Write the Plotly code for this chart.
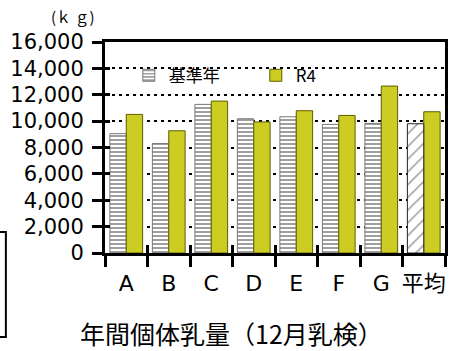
import plotly.graph_objects as go

categories = ["A", "B", "C", "D", "E", "F", "G"]
avg_category = ["平均"]
base_year = [9050, 8300, 11270, 10180, 10330, 9750, 9830]
base_year_avg = [9800]
r4 = [10510, 9270, 11520, 9940, 10790, 10430, 12660, 10710]
y_ticks = [0, 2000, 4000, 6000, 8000, 10000, 12000, 14000, 16000]

all_categories = categories + avg_category
n_cat = len(all_categories)
boundaries = [i - 0.5 for i in range(n_cat + 1)]

fig = go.Figure()
fig.add_trace(go.Bar(
    x=categories, y=base_year, name="基準年", offsetgroup="base",
    marker=dict(
        color="white",
        line=dict(color="#7a7a7a", width=1),
        pattern=dict(shape="-", fgcolor="#404040", bgcolor="white",
                     size=4, solidity=0.5, fillmode="overlay"),
    ),
))
fig.add_trace(go.Bar(
    x=all_categories, y=r4, name="R4", offsetgroup="r4",
    marker=dict(color="#CCCC22", line=dict(color="#5e5e00", width=1)),
))
fig.add_trace(go.Bar(
    x=avg_category, y=base_year_avg, name="基準年平均", offsetgroup="base", showlegend=False,
    marker=dict(
        color="white",
        line=dict(color="#222222", width=1),
        pattern=dict(shape="/", fgcolor="#222222", bgcolor="white",
                     size=9, solidity=0.15, fillmode="overlay"),
    ),
))
# empty helper trace so the overlay axes (inner tick marks) get drawn
fig.add_trace(go.Scatter(x=[None], y=[None], xaxis="x2", yaxis="y2", mode="markers",
                         showlegend=False, hoverinfo="skip"))

fig.update_layout(
    width=457, height=351,
    margin=dict(l=105, r=9, t=42, b=98),
    paper_bgcolor="white", plot_bgcolor="white",
    barmode="group", bargap=0.23, bargroupgap=0,
    font=dict(family="DejaVu Sans", color="black"),
    legend=dict(orientation="h", x=0.07, xanchor="left", y=0.84, yanchor="middle",
                bgcolor="rgba(0,0,0,0)", font=dict(family="Noto Sans CJK JP", size=17),
                entrywidth=82, traceorder="normal"),
    showlegend=True,
    xaxis=dict(
        categoryorder="array", categoryarray=all_categories,
        tickson="boundaries", ticks="outside", ticklen=11, tickwidth=3, tickcolor="black",
        showline=True, linecolor="black", linewidth=3, mirror=True,
        tickfont=dict(family="DejaVu Sans, Noto Sans CJK JP", size=22, color="black"),
        tickangle=0, ticklabelstandoff=9,
    ),
    yaxis=dict(
        range=[0, 16000], tickvals=y_ticks, tickformat=",",
        ticks="outside", ticklen=10, tickwidth=3, tickcolor="black",
        showline=True, linecolor="black", linewidth=3, mirror=True,
        showgrid=True, gridcolor="black", gridwidth=2, griddash="3px,4px",
        tickfont=dict(family="DejaVu Sans", size=21, color="black"),
        zeroline=False, ticklabelstandoff=4,
    ),
    xaxis2=dict(overlaying="x", anchor="y", side="bottom", range=[-0.5, n_cat - 0.5],
                tickvals=boundaries, ticks="inside", ticklen=8, tickwidth=3, tickcolor="black",
                showticklabels=False, showgrid=False, showline=False, zeroline=False),
    yaxis2=dict(overlaying="y", anchor="x", side="left", range=[0, 16000], tickvals=y_ticks,
                ticks="inside", ticklen=5, tickwidth=3, tickcolor="black",
                showticklabels=False, showgrid=False, showline=False, zeroline=False),
)
fig.add_annotation(text="(ｋ ｇ)", xref="paper", yref="paper", x=(73 - 105) / 343, y=(253 - 16) / 211,
                   xanchor="center", yanchor="middle",
                   showarrow=False, font=dict(family="Noto Sans CJK JP", size=15, color="black"))
fig.add_annotation(text="年間個体乳量（12月乳検）", xref="paper", yref="paper",
                   x=(233 - 105) / 343, y=(253 - 333) / 211, xanchor="center", yanchor="middle",
                   showarrow=False, font=dict(family="Noto Sans CJK JP", size=25, color="black"))
fig.add_shape(type="rect", xref="paper", yref="paper", x0=-0.5, x1=(5 - 105) / 343,
              y0=(253 - 337) / 211, y1=(253 - 232) / 211, line=dict(color="black", width=2))

fig.write_html("out.html")
